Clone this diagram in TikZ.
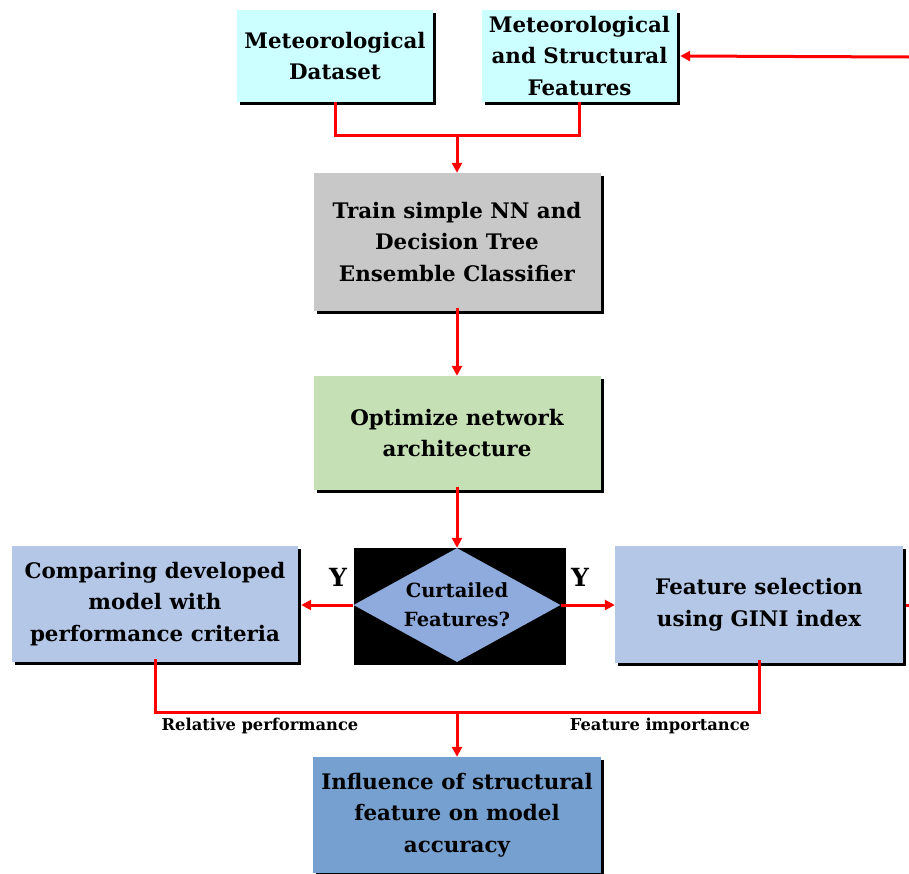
\documentclass[tikz,border=0pt]{standalone}
\usepackage{fontspec}
\setmainfont{DejaVu Serif}
\usetikzlibrary{arrows.meta,shapes.geometric,shadows}

\definecolor{cyanbox}{HTML}{CCFFFF}
\definecolor{graybox}{HTML}{C8C8C8}
\definecolor{greenbox}{HTML}{C5E0B4}
\definecolor{bluebox}{HTML}{B4C7E7}
\definecolor{diamondfill}{HTML}{8FAADC}
\definecolor{darkbox}{HTML}{75A0CF}

\tikzset{
    flowbox/.style={rectangle, inner sep=0pt, align=center,
        font=\fontsize{21.4}{31.5}\selectfont\bfseries,
        drop shadow={shadow xshift=3pt, shadow yshift=-3pt, fill=black, opacity=1}},
    flowline/.style={draw=red, line width=3pt},
    flowarrow/.style={flowline, -{Triangle[length=10pt,width=10pt]}},
    yeslabel/.style={font=\fontsize{25}{25}\selectfont\bfseries},
    edgelabel/.style={font=\fontsize{16.3}{16}\selectfont\bfseries}
}

\begin{document}
\begin{tikzpicture}[x=1pt,y=-1pt]
                \useasboundingbox (0,0) rectangle (909,873);

                \node[flowbox, fill=cyanbox, minimum width=196pt, minimum height=92pt]
                    (metdata) at (335,56) {Meteorological\\Dataset};
                \node[flowbox, fill=cyanbox, minimum width=195pt, minimum height=92pt]
                    (metfeat) at (579.5,56) {Meteorological\\and Structural\\Features};
                \node[flowbox, fill=graybox, minimum width=287pt, minimum height=138pt]
                    (train) at (457,242) {Train simple NN and\\Decision Tree\\Ensemble Classifier};
                \node[flowbox, fill=greenbox, minimum width=287pt, minimum height=114pt]
                    (optim) at (457,433) {Optimize network\\architecture};

                \fill[black] (354,548) rectangle (566,665);
                \node[diamond, aspect=1.8, fill=diamondfill, inner sep=0pt, align=center,
                    minimum width=207pt, minimum height=114pt,
                    font=\fontsize{19.5}{29}\selectfont\bfseries]
                    (curt) at (457,605) {Curtailed\\Features?};

                \node[flowbox, fill=bluebox, minimum width=286pt, minimum height=116pt]
                    (compare) at (155,604) {Comparing developed\\model with\\performance criteria};
                \node[flowbox, fill=bluebox, minimum width=288pt, minimum height=117pt]
                    (gini) at (759,604.5) {Feature selection\\using GINI index};
                \node[flowbox, fill=darkbox, minimum width=288pt, minimum height=116pt]
                    (influence) at (457,815) {Influence of structural\\feature on model\\accuracy};

                \coordinate (join1) at (457,135);
                \coordinate (join2) at (457,712);
                \coordinate (feedin) at (909,57);
                \coordinate (feedout) at (909,605);

                % top inputs
                \draw[flowline] (metdata.south) |- (join1);
                \draw[flowline] (metfeat.south) |- (join1);
                \draw[flowarrow] (join1) -- (train.north);
                \draw[flowarrow] (feedin) -- ([xshift=3pt]metfeat.east);

                \draw[flowarrow] ([yshift=3pt]train.south) -- (optim.north);
                \draw[flowarrow] ([yshift=3pt]optim.south) -- (curt.north);

                % decision branches
                \draw[flowarrow] (curt.west) -- ([xshift=3pt]compare.east |- curt.west);
                \draw[flowarrow] (curt.east) -- (gini.west |- curt.east);
                \draw[flowline] ([xshift=3pt]gini.east |- curt.east) -- (feedout);
                \node[yeslabel] (yleft) at (338,577) {Y};
                \node[yeslabel] (yright) at (580,577) {Y};

                % outputs
                \draw[flowline] ([yshift=3pt]compare.south) |- (join2);
                \draw[flowline] ([yshift=3pt]gini.south) |- (join2);
                \draw[flowarrow] (join2) -- (influence.north);
                \node[edgelabel] (relperf) at (260,726) {Relative performance};
                \node[edgelabel] (featimp) at (660,726) {Feature importance};
\end{tikzpicture}
\end{document}
